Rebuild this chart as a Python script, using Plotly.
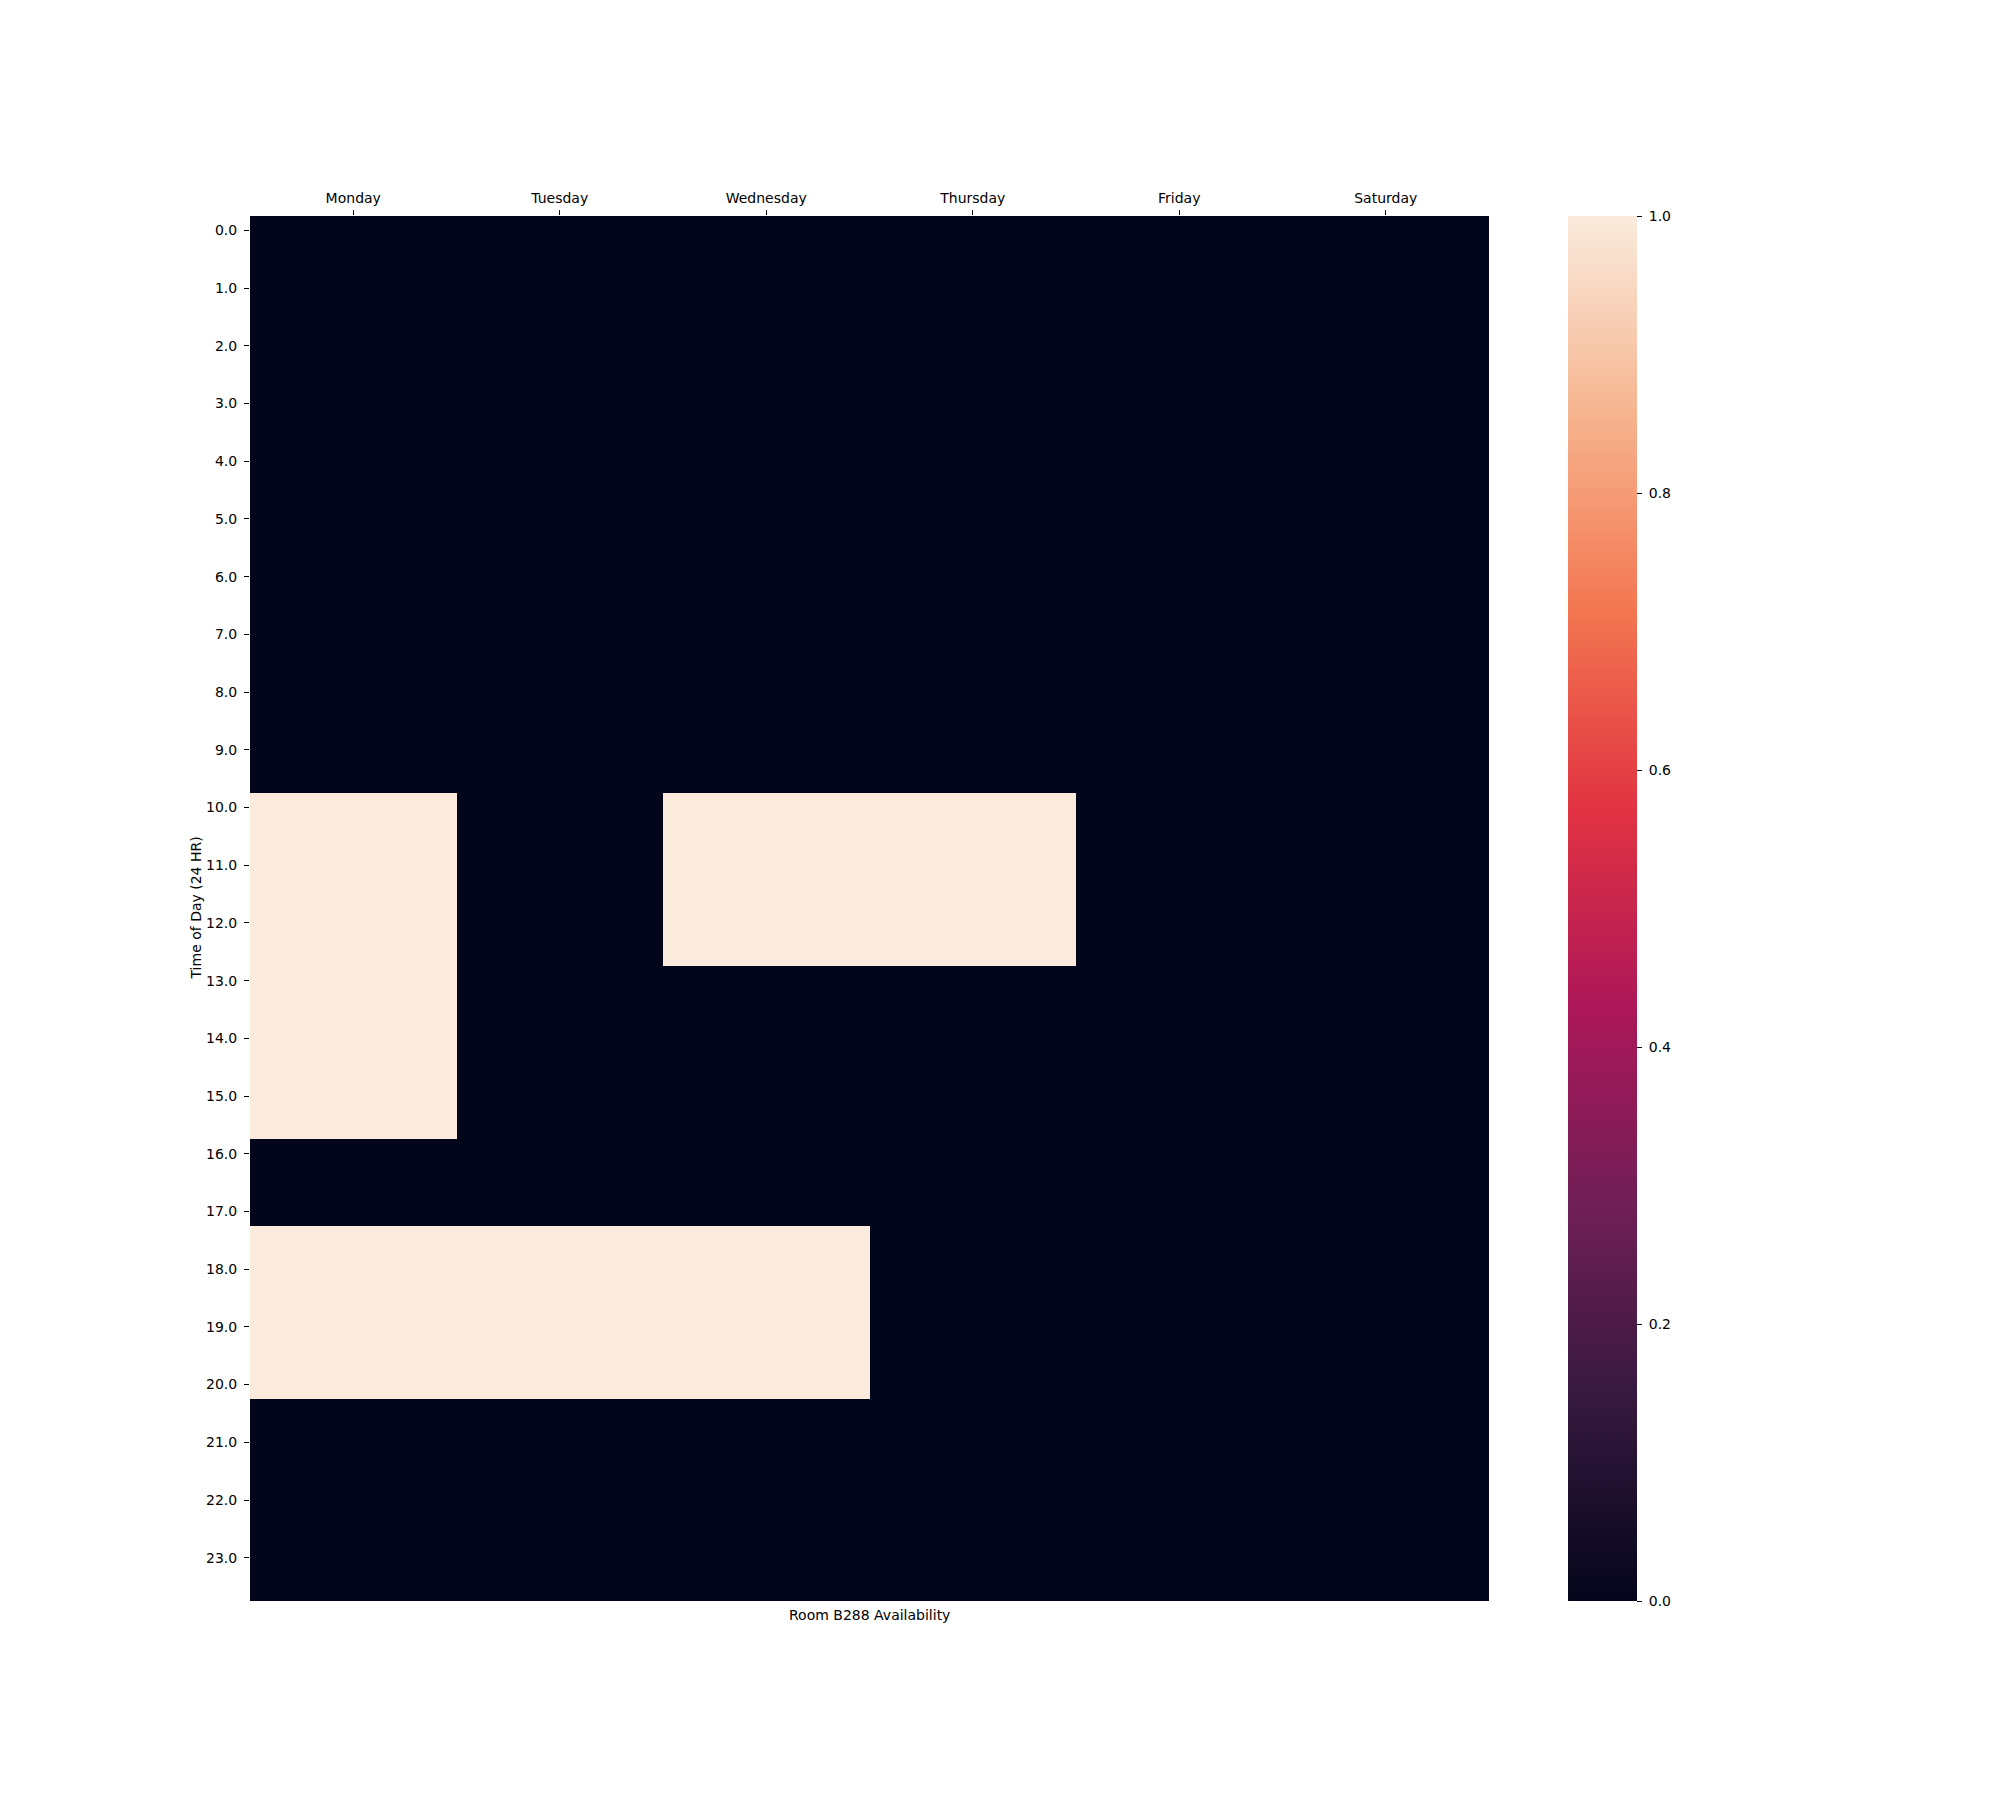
import plotly.graph_objects as go

days = ["Monday", "Tuesday", "Wednesday", "Thursday", "Friday", "Saturday"]

# half-hour time slots (24 HR)
times = [0.0, 0.5, 1.0, 1.5, 2.0, 2.5, 3.0, 3.5, 4.0, 4.5, 5.0, 5.5,
         6.0, 6.5, 7.0, 7.5, 8.0, 8.5, 9.0, 9.5, 10.0, 10.5, 11.0, 11.5,
         12.0, 12.5, 13.0, 13.5, 14.0, 14.5, 15.0, 15.5, 16.0, 16.5, 17.0, 17.5,
         18.0, 18.5, 19.0, 19.5, 20.0, 20.5, 21.0, 21.5, 22.0, 22.5, 23.0, 23.5]

#            0     1     2     3     4     5     6     7     8     9    10    11    12    13    14    15    16    17    18    19    20    21    22    23
monday    = [0,0, 0,0, 0,0, 0,0, 0,0, 0,0, 0,0, 0,0, 0,0, 0,0, 1,1, 1,1, 1,1, 1,1, 1,1, 1,1, 0,0, 0,1, 1,1, 1,1, 1,0, 0,0, 0,0, 0,0]
tuesday   = [0,0, 0,0, 0,0, 0,0, 0,0, 0,0, 0,0, 0,0, 0,0, 0,0, 0,0, 0,0, 0,0, 0,0, 0,0, 0,0, 0,0, 0,1, 1,1, 1,1, 1,0, 0,0, 0,0, 0,0]
wednesday = [0,0, 0,0, 0,0, 0,0, 0,0, 0,0, 0,0, 0,0, 0,0, 0,0, 1,1, 1,1, 1,1, 0,0, 0,0, 0,0, 0,0, 0,1, 1,1, 1,1, 1,0, 0,0, 0,0, 0,0]
thursday  = [0,0, 0,0, 0,0, 0,0, 0,0, 0,0, 0,0, 0,0, 0,0, 0,0, 1,1, 1,1, 1,1, 0,0, 0,0, 0,0, 0,0, 0,0, 0,0, 0,0, 0,0, 0,0, 0,0, 0,0]
friday    = [0,0, 0,0, 0,0, 0,0, 0,0, 0,0, 0,0, 0,0, 0,0, 0,0, 0,0, 0,0, 0,0, 0,0, 0,0, 0,0, 0,0, 0,0, 0,0, 0,0, 0,0, 0,0, 0,0, 0,0]
saturday  = [0,0, 0,0, 0,0, 0,0, 0,0, 0,0, 0,0, 0,0, 0,0, 0,0, 0,0, 0,0, 0,0, 0,0, 0,0, 0,0, 0,0, 0,0, 0,0, 0,0, 0,0, 0,0, 0,0, 0,0]

y_tickvals = [0, 1, 2, 3, 4, 5, 6, 7, 8, 9, 10, 11, 12, 13, 14, 15, 16, 17, 18, 19, 20, 21, 22, 23]
y_ticktext = ["0.0", "1.0", "2.0", "3.0", "4.0", "5.0", "6.0", "7.0", "8.0", "9.0", "10.0", "11.0",
              "12.0", "13.0", "14.0", "15.0", "16.0", "17.0", "18.0", "19.0", "20.0", "21.0", "22.0", "23.0"]
cb_tickvals = [0.0, 0.2, 0.4, 0.6, 0.8, 1.0]
cb_ticktext = [" 0.0", " 0.2", " 0.4", " 0.6", " 0.8", " 1.0"]

series = [monday, tuesday, wednesday, thursday, friday, saturday]
z = [list(row) for row in zip(*series)]

rocket = [
    [0.0, "#03051a"],
    [1 / 7, "#35193e"],
    [2 / 7, "#701f57"],
    [3 / 7, "#ad1759"],
    [4 / 7, "#e13342"],
    [5 / 7, "#f37651"],
    [6 / 7, "#f6b48f"],
    [1.0, "#faebdd"],
]

W, H = 2000, 1800
L, R, T, B = 250, 2000 - 1489, 216, 1800 - 1601
pw = W - L - R

font = dict(family="DejaVu Sans", size=14, color="black")

fig = go.Figure(
    go.Heatmap(
        x=days,
        y=times,
        z=z,
        zmin=0,
        zmax=1,
        colorscale=rocket,
        hoverinfo="skip",
        colorbar=dict(
            x=(1568 - L) / pw,
            xanchor="left",
            xpad=0,
            ypad=0,
            y=0.5,
            yanchor="middle",
            len=1,
            lenmode="fraction",
            thickness=69,
            thicknessmode="pixels",
            outlinewidth=0,
            ticks="outside",
            ticklen=5,
            tickwidth=1,
            tickcolor="black",
            tickvals=cb_tickvals,
            ticktext=cb_ticktext,
            tickfont=font,
        ),
    )
)

fig.update_layout(
    width=W,
    height=H,
    margin=dict(l=L, r=R, t=T, b=B, pad=0),
    paper_bgcolor="white",
    plot_bgcolor="white",
    font=font,
    xaxis=dict(
        side="top",
        ticks="outside",
        ticklen=5,
        tickwidth=1,
        tickcolor="black",
        ticklabelstandoff=1,
        showgrid=False,
        zeroline=False,
        showline=False,
        tickfont=font,
    ),
    yaxis=dict(
        range=[23.75, -0.25],
        tickvals=y_tickvals,
        ticktext=y_ticktext,
        ticks="outside",
        ticklen=5,
        tickwidth=1,
        tickcolor="black",
        ticklabelstandoff=4,
        showgrid=False,
        zeroline=False,
        showline=False,
        tickfont=font,
    ),
    annotations=[
        dict(
            text="Room B288 Availability",
            xref="paper", yref="paper",
            x=0.5, y=0,
            xanchor="center", yanchor="top",
            yshift=-4,
            showarrow=False,
            font=font,
        ),
        dict(
            text="Time of Day (24 HR)",
            xref="paper", yref="paper",
            x=0, y=0.5,
            xanchor="center", yanchor="middle",
            xshift=-55,
            textangle=-90,
            showarrow=False,
            font=font,
        ),
    ],
)

fig.write_html("out.html")
